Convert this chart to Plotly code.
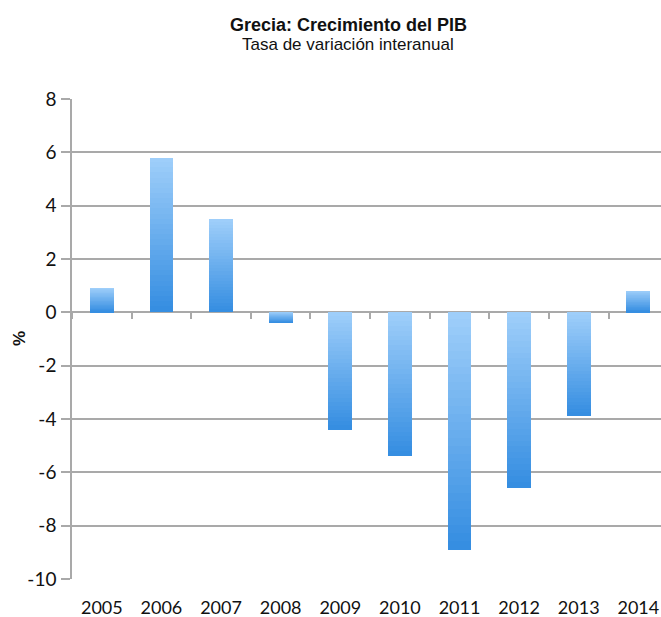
import plotly.graph_objects as go

# Data
years = ["2005", "2006", "2007", "2008", "2009", "2010", "2011", "2012", "2013", "2014"]
growth = [0.9, 5.8, 3.5, -0.4, -4.4, -5.4, -8.9, -6.6, -3.9, 0.8]
y_ticks = [8, 6, 4, 2, 0, -2, -4, -6, -8, -10]

title_text = "Grecia: Crecimiento del PIB"
subtitle_text = "Tasa de variación interanual"
y_title = "%"

# Style
light = (160, 207, 250)
dark = (52, 141, 225)
N_SEG = 30
grid_col = "#a9a9a9"
font_family = "Lato"

fig = go.Figure()

tops = [max(v, 0) for v in growth]
lens = [abs(v) for v in growth]
for k in range(N_SEG):
    t = (k + 0.5) / N_SEG
    c = tuple(round(light[i] + (dark[i] - light[i]) * t) for i in range(3))
    bases = [tp - (k + 1) * L / N_SEG for tp, L in zip(tops, lens)]
    heights = [L / N_SEG * (1.0 if k == 0 else 1.15) for L in lens]
    fig.add_trace(go.Bar(
        x=years, y=heights, base=bases, width=0.4,
        marker=dict(color="rgb(%d,%d,%d)" % c, line=dict(width=0)),
        hoverinfo="skip", showlegend=False,
    ))

# invisible trace to carry the secondary x axis (tick marks on zero line)
fig.add_trace(go.Scatter(x=years, y=[0] * len(years), xaxis="x2", mode="markers",
                         marker=dict(opacity=0), hoverinfo="skip", showlegend=False))

y_min, y_max = min(y_ticks), max(y_ticks)
L_M, T_M, B_M = 72, 99, 38
plot_w = 661 - L_M
plot_h = 617 - T_M - B_M

def px_x(p):
    return (p - L_M) / plot_w

def px_y(p):
    return 1 - (p - T_M) / plot_h

fig.update_layout(
    width=661, height=617,
    margin=dict(l=L_M, r=0, t=T_M, b=B_M),
    paper_bgcolor="white", plot_bgcolor="white",
    barmode="overlay", bargap=0,
    font=dict(family=font_family, size=18, color="#222222"),
    xaxis=dict(
        type="category", range=[-0.5, 9.38],
        showgrid=False, zeroline=False, showline=False, ticks="",
        tickfont=dict(family=font_family, size=18, color="#111111"),
        ticklabelstandoff=16,
    ),
    xaxis2=dict(
        type="category", overlaying="x", matches="x", anchor="free",
        position=(0 - y_min) / (y_max - y_min),
        showgrid=False, zeroline=False, showline=False,
        ticks="outside", tickson="boundaries", ticklen=6, tickwidth=1.5,
        tickcolor=grid_col, showticklabels=False,
    ),
    yaxis=dict(
        range=[y_min, y_max], tickvals=y_ticks, ticktext=[str(v) for v in y_ticks],
        showgrid=True, gridcolor=grid_col, gridwidth=1.5,
        zeroline=False, showline=True, linecolor=grid_col, linewidth=1.5,
        ticks="outside", ticklen=9, tickwidth=1.5, tickcolor=grid_col,
        tickfont=dict(family=font_family, size=19, color="#111111"),
        ticklabelstandoff=1,
    ),
    annotations=[
        dict(text="<b>" + title_text + "</b>", x=px_x(348), xref="paper",
             y=px_y(25), yref="paper", xanchor="center", yanchor="middle",
             showarrow=False, font=dict(family="Liberation Sans", size=18, color="#111111")),
        dict(text=subtitle_text, x=px_x(348), xref="paper",
             y=px_y(45), yref="paper", xanchor="center", yanchor="middle",
             showarrow=False, font=dict(family="Liberation Sans", size=17, color="#111111")),
        dict(text="<b>" + y_title + "</b>", x=px_x(19), xref="paper",
             y=px_y(339), yref="paper", xanchor="center", yanchor="middle",
             showarrow=False, textangle=-90,
             font=dict(family="Liberation Sans", size=17, color="#111111")),
    ],
)

fig.write_html("out.html")
